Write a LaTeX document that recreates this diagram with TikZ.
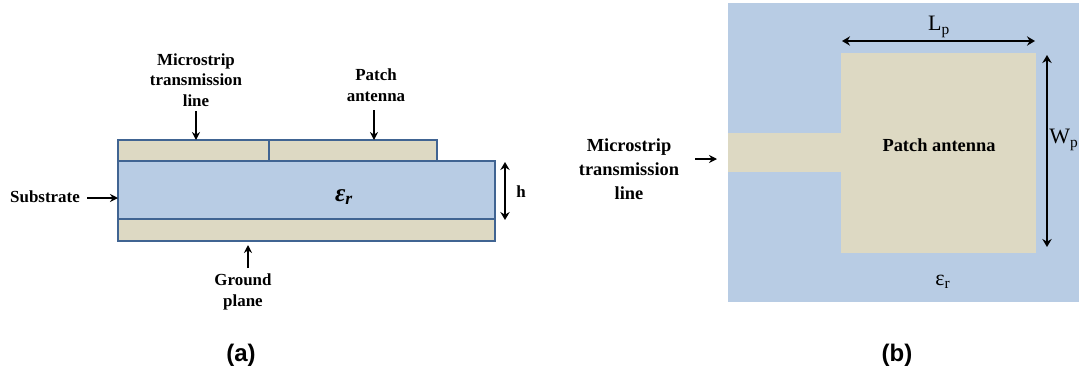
\documentclass[tikz,border=0pt]{standalone}
\usepackage{fontspec}
\setmainfont{Liberation Serif}
\newfontfamily\capfont{Liberation Sans}
\usetikzlibrary{arrows.meta,positioning}
\definecolor{subblue}{RGB}{184,204,228}
\definecolor{metaltan}{RGB}{221,217,195}
\definecolor{edgeblue}{RGB}{64,100,146}
\begin{document}
\begin{tikzpicture}[
  x=0.75pt, y=-0.75pt,
  layer/.style={rectangle, draw=edgeblue, line width=1.1pt, anchor=north west,
    inner sep=0pt, outer sep=0pt},
  flat/.style={rectangle, anchor=north west, inner sep=0pt, outer sep=0pt},
  lbl/.style={align=center, inner sep=0pt, font=\fontsize{12.7}{15.4}\selectfont\bfseries},
  lblb/.style={align=center, inner sep=0pt, font=\fontsize{13.8}{18}\selectfont\bfseries},
  symb/.style={inner sep=0pt, font=\fontsize{16.5}{18}\selectfont},
  tag/.style={inner sep=0pt, font=\fontsize{18}{20}\selectfont\capfont\bfseries},
  arr/.style={-{Stealth[length=6pt,width=6pt,inset=2pt]}, line width=1pt},
  span/.style={{Stealth[length=6pt,width=7pt,inset=2pt]}-{Stealth[length=6pt,width=7pt,inset=2pt]}, line width=1.1pt}
]
  \useasboundingbox (0,0) rectangle (1079,372);

  % Side view
  \node[layer, fill=subblue, minimum width=377*0.75pt, minimum height=58*0.75pt] (substrate) at (118,161) {};
  \node[layer, fill=metaltan, minimum width=377*0.75pt, minimum height=22*0.75pt] (ground) at (118,219) {};
  \node[layer, fill=metaltan, minimum width=151*0.75pt, minimum height=21*0.75pt] (feedside) at (118,140) {};
  \node[layer, fill=metaltan, minimum width=168*0.75pt, minimum height=21*0.75pt] (patchside) at (269,140) {};
  \node[symb] (epsside) at (344,197) {\fontsize{19}{20}\selectfont\bfseries\itshape ε\textsubscript{r}};

  \node[lbl] (mslabel) at (196,80) {Microstrip\\transmission\\line};
  \node[lbl] (patchlabel) at (376,85) {Patch\\antenna};
  \node[lbl] (sublabel) at (45,197) {Substrate};
  \node[lbl] (hlabel) at (521,192) {h};
  \node[lbl] (gndlabel) at (243,292) {Ground\\plane};
  \node[tag] (taga) at (241,355) {(a)};

  \coordinate (mstop) at (196,111);
  \coordinate (patchtop) at (374,110);
  \coordinate (subtail) at (87,198);
  \coordinate (gndtail) at (248,268);
  \coordinate (gndtip) at (248,245);
  \coordinate (htop) at (505,162);
  \coordinate (hbot) at (505,220);

  \draw[arr] (mstop) -- (mstop |- feedside.north);
  \draw[arr] (patchtop) -- (patchtop |- patchside.north);
  \draw[arr] (subtail) -- (subtail -| substrate.west);
  \draw[arr] (gndtail) -- (gndtip);
  \draw[span] (htop) -- (hbot);

  % Top view
  \node[flat, fill=subblue, minimum width=351*0.75pt, minimum height=299*0.75pt] (board) at (728,3) {};
  \node[flat, fill=metaltan, minimum width=113*0.75pt, minimum height=39*0.75pt] (feedtop) at (728,133) {};
  \node[flat, fill=metaltan, minimum width=195*0.75pt, minimum height=200*0.75pt] (patchtop2) at (841,53) {};

  \node[lblb] (patchname) at (939,145) {Patch antenna};
  \node[lblb] (mslabeltop) at (629,169) {Microstrip\\transmission\\line};
  \node[symb] (lplabel) at (939,27) {L\textsubscript{p}};
  \node[symb] (wplabel) at (1064,140) {W\textsubscript{p}};
  \node[symb] (epstop) at (943,282) {ε\textsubscript{r}};
  \node[tag] (tagb) at (897,355) {(b)};

  \coordinate (lpleft) at (842,41);
  \coordinate (lpright) at (1035,41);
  \coordinate (wptop) at (1047,55);
  \coordinate (wpbot) at (1047,247);
  \coordinate (mstail) at (695,159);
  \coordinate (mstip) at (717,159);

  \draw[span] (lpleft) -- (lpright);
  \draw[span] (wptop) -- (wpbot);
  \draw[arr] (mstail) -- (mstip);
\end{tikzpicture}
\end{document}
